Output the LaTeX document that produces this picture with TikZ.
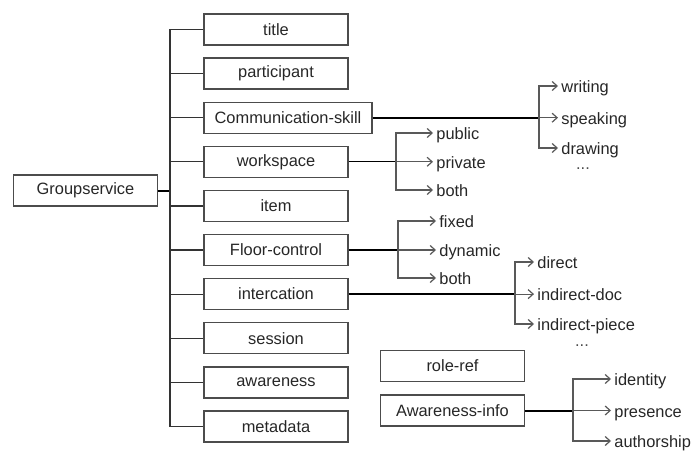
\documentclass[tikz,border=0pt]{standalone}
\usepackage{fontspec}
\setmainfont{Liberation Sans}
\usetikzlibrary{arrows.meta}
\tikzset{
  box/.style={draw=black!70, line width=0.7pt, minimum width=72pt,
    minimum height=15.5pt, inner sep=0pt, text=black!85},
  leaf/.style={anchor=west, inner sep=1.5pt, text height=1.6ex,
    text depth=.3ex, text=black!85},
  trunk/.style={draw=black!80, line width=0.6pt},
  stem/.style={draw=black, line width=1pt},
  twig/.style={draw=black!65, line width=0.6pt,
    -{Straight Barb[length=2.5pt,width=4.5pt]}},
  more/.style={text=black!70, inner sep=0pt, text height=0.3ex, text depth=0pt},
}
\begin{document}
\begin{tikzpicture}[x=0.5pt,y=-0.5pt,font=\fontsize{8.2}{10}\selectfont]
        \useasboundingbox (0,0) rectangle (694,460);

        % left column
        \begin{scope}[every node/.style={box}]
            \node (gs) at (85.5,190.5) {Groupservice};
            \node (title) at (276,29.5) {title};
            \node (part) at (276,73.6) {participant};
            \node[minimum width=84pt] (comm) at (288,117.7) {Communication-skill};
            \node (work) at (276,161.8) {workspace};
            \node (item) at (276,205.9) {item};
            \node (floor) at (276,250) {Floor-control};
            \node (inter) at (276,294.1) {intercation};
            \node (sess) at (276,338.2) {session};
            \node (aware) at (276,382.3) {awareness};
            \node (meta) at (276,426.4) {metadata};
            \node (role) at (452.5,366) {role-ref};
            \node (ainfo) at (452.5,410.5) {Awareness-info};
        \end{scope}

        % values
        \begin{scope}[every node/.style={leaf}]
            \node (writing) at (558,86) {writing};
            \node (speaking) at (558,117.7) {speaking};
            \node (drawing) at (558,148) {drawing};
            \node (public) at (433,133) {public};
            \node (private) at (433,161.8) {private};
            \node (wboth) at (433,190) {both};
            \node (fixed) at (436,221) {fixed};
            \node (dynamic) at (436,250) {dynamic};
            \node (fboth) at (436,278) {both};
            \node (direct) at (534,262) {direct};
            \node (idoc) at (534,294.1) {indirect-doc};
            \node (ipiece) at (534,324) {indirect-piece};
            \node (identity) at (611,379) {identity};
            \node (presence) at (611,410.5) {presence};
            \node (author) at (611,441) {authorship};
        \end{scope}
        \node[more] (cdots) at (583,168) {...};
        \node[more] (idots) at (582,345) {...};

        % branch points
        \coordinate (gsT) at (170,190.5);
        \coordinate (commB) at (539,117.7);
        \coordinate (workB) at (396,161.8);
        \coordinate (floorB) at (398,250);
        \coordinate (interB) at (515,294.1);
        \coordinate (ainfoB) at (573,410.5);

        \draw[stem] (gs.east) -- (gsT);
        \foreach \n in {title,part,comm,work,item,floor,inter,sess,aware,meta}
            \draw[trunk] (gsT) |- (\n.west);

        \draw[stem] (comm.east) -- (commB);
        \foreach \n in {writing,speaking,drawing}
            \draw[twig] (commB) |- (\n.west);
        \draw[trunk,draw=black] (work.east) -- (workB);
        \foreach \n in {public,private,wboth}
            \draw[twig] (workB) |- (\n.west);
        \draw[stem] (floor.east) -- (floorB);
        \foreach \n in {fixed,dynamic,fboth}
            \draw[twig] (floorB) |- (\n.west);
        \draw[stem] (inter.east) -- (interB);
        \foreach \n in {direct,idoc,ipiece}
            \draw[twig] (interB) |- (\n.west);
        \draw[stem] (ainfo.east) -- (ainfoB);
        \foreach \n in {identity,presence,author}
            \draw[twig] (ainfoB) |- (\n.west);
    \end{tikzpicture}
\end{document}
